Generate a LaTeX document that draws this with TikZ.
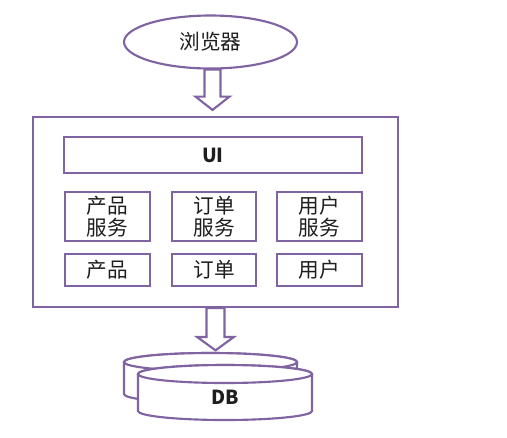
\documentclass[tikz,border=0pt]{standalone}
\usepackage{fontspec}
\newfontfamily\cjk{Noto Sans CJK SC}
\usetikzlibrary{calc,shapes.geometric}
\definecolor{pur}{RGB}{128,100,162}
\definecolor{txt}{RGB}{30,30,30}
\begin{document}
\begin{tikzpicture}[x=0.75pt,y=-0.75pt,
  base/.style={draw=pur,line width=1.6pt,fill=white,text=txt,inner sep=0pt,align=center,
    font=\cjk\fontsize{15.5}{16.5}\selectfont},
  box/.style={base,rectangle},
  arr/.style={draw=pur,line width=1.6pt,fill=white,line join=miter}]
\useasboundingbox (0,0) rectangle (507,437);
\node[base,ellipse,minimum width=129.75pt,minimum height=39.75pt] (browser) at (210.5,42) {浏览器};
\node[box,minimum width=273.75pt,minimum height=142.5pt] (app) at (215.5,212) {};
\node[box,minimum width=223.5pt,minimum height=27pt,font=\cjk\bfseries\fontsize{14.5}{16}\selectfont] (ui) at (213,155) {UI};
\node[box,minimum width=63.75pt,minimum height=36.75pt] (ps) at (107.5,216.5) {产品\\服务};
\node[box,minimum width=63pt,minimum height=36.75pt] (os) at (214,216.5) {订单\\服务};
\node[box,minimum width=63.75pt,minimum height=36.75pt] (us) at (319.5,216.5) {用户\\服务};
\node[box,minimum width=63.75pt,minimum height=24pt] (p) at (107.5,270) {产品};
\node[box,minimum width=63pt,minimum height=24pt] (o) at (214,270) {订单};
\node[box,minimum width=63.75pt,minimum height=24pt] (u) at (319.5,270) {用户};
% database cylinders
\coordinate (dbback) at (210.5,362);
\coordinate (dbfront) at (225,374);
\draw[arr] (124,362) -- (124,394) arc[start angle=180,end angle=360,x radius=64.875pt,y radius=6.75pt] -- (297,362)
  arc[start angle=0,end angle=180,x radius=64.875pt,y radius=6.75pt] -- cycle;
\draw[arr] (dbback) ellipse[x radius=64.875pt,y radius=6.75pt];
\draw[arr] (138,374) -- (138,411) arc[start angle=180,end angle=360,x radius=65.25pt,y radius=6.75pt] -- (312,374)
  arc[start angle=0,end angle=180,x radius=65.25pt,y radius=6.75pt] -- cycle;
\draw[arr] (dbfront) ellipse[x radius=65.25pt,y radius=6.75pt];
\node[text=txt,font=\cjk\bfseries\fontsize{14.5}{16}\selectfont] (db) at (225,397) {DB};
% block arrows
\draw[arr] let \p1=(browser.south), \p2=(app.north) in
  (\x1+1.5pt-6pt,\y1) -- (\x1+1.5pt-6pt,\y2+14.5pt) -- (\x1+1.5pt-12.75pt,\y2+14.5pt) -- (\x1+1.5pt,\y2+4.5pt)
  -- (\x1+1.5pt+12.75pt,\y2+14.5pt) -- (\x1+1.5pt+6pt,\y2+14.5pt) -- (\x1+1.5pt+6pt,\y1) -- cycle;
\draw[arr] let \p1=(app.south), \p2=(dbback), \n1={\y2+6.75pt} in
  (\x1-6.75pt,\y1) -- (\x1-6.75pt,\n1+12pt) -- (\x1-13.75pt,\n1+12pt) -- (\x1,\n1+2pt)
  -- (\x1+13.75pt,\n1+12pt) -- (\x1+6.75pt,\n1+12pt) -- (\x1+6.75pt,\y1) -- cycle;
\end{tikzpicture}
\end{document}
